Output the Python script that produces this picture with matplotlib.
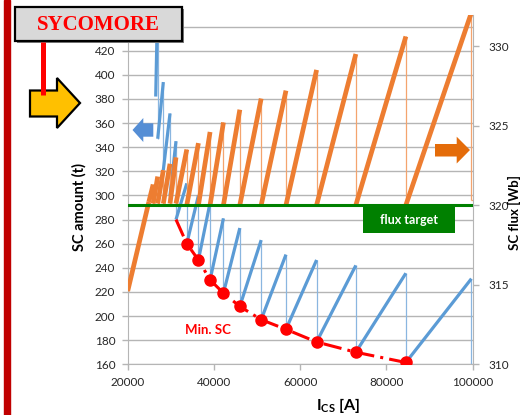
import matplotlib
matplotlib.use("Agg")
import matplotlib.pyplot as plt
import numpy as np
from matplotlib.collections import LineCollection
from matplotlib.patches import Polygon, Rectangle

plt.rcParams['font.family'] = ['Lato', 'DejaVu Sans']
plt.rcParams['mathtext.fontset'] = 'custom'
plt.rcParams['mathtext.rm'] = 'Lato'
plt.rcParams['mathtext.bf'] = 'Lato:bold'

# ---- data ----
# cycle boundaries of the CS current [A], the SC amount sawtooth resets here
cycle_ics = [26960, 28260, 29810, 31200, 33700, 36400, 39100, 42200, 46000,
             50950, 56700, 63800, 72900, 84500, 99700]
sc_first_ics = 26500
# SC amount (t): value at start of each tooth and value just before the reset
sc_low = [382, 347, 321, 300, 280, 260, 246.5, 230, 219, 208, 197, 189, 178.5, 170, 161.5]
sc_high = [465, 394, 368, 345, 310, 300, 294, 281, 273, 263, 251, 246.5, 242, 235.5, 231]
sc_end = 160

# SC flux [Wb] sawtooth (secondary axis)
flux_ics = [20000, 24900, 25900, 26960, 28260, 29810, 31200, 33700, 36400, 39100,
            42200, 46000, 50950, 56700, 63800, 72900, 84500, 99700]
flux_low = [314.6, 320.2, 320.1, 320.1, 320.1, 320.1, 320.1, 320.0, 320.0, 320.0,
            320.0, 320.0, 320.0, 320.0, 320.0, 320.0, 320.0]
flux_high = [320.2, 321.3, 321.8, 322.2, 322.6, 323.0, 323.5, 323.9, 324.6, 325.2,
             326.0, 326.7, 327.2, 328.5, 329.5, 330.6, 332.1]
flux_tail_ics = 100000
flux_tail = 320.3
flux_target = 320

# minimum SC amount per cycle
min_ics = [31200, 33700, 36400, 39100, 42200, 46000, 50950, 56700, 63800, 72900, 84500]
min_sc = [280, 260, 246.5, 230, 219, 208, 197, 189, 178.5, 170, 161.5]

W, H = 521, 415
fig = plt.figure(figsize=(W / 100, H / 100), dpi=100)
ax = fig.add_axes([127.7 / W, (H - 364.3) / H, 345 / W, 349.3 / H])
ax2 = ax.twinx()

grid_c = '#B5B5B5'
txt_c = '#262626'
blue = '#5B9BD5'
orange = '#ED7D31'

# ---- SC amount sawtooth ----
starts = [sc_first_ics] + cycle_ics[:-1]
rise = [[(x0, lo), (x1, hi)] for x0, x1, lo, hi in zip(starts, cycle_ics, sc_low, sc_high)]
drop_to = sc_low[1:] + [sc_end]
drops = [[(x1, hi), (x1, lo)] for x1, hi, lo in zip(cycle_ics, sc_high, drop_to)]
ax.add_collection(LineCollection(drops, colors='#8AB6E0', linewidths=0.9, zorder=3))
ax.add_collection(LineCollection(rise, colors=blue, linewidths=2.3, zorder=4, capstyle='butt'))

# ---- minimum SC ----
ax.plot(min_ics, min_sc, color='#FF0000', lw=2.2, dashes=(6, 2, 1, 2), zorder=5)
ax.plot(min_ics[1:], min_sc[1:], 'o', color='#FF0000', ms=8, zorder=6)

ax.set_xlim(20000, 100000)
ax.set_ylim(160, 449.6)
ax.set_xticks(np.arange(20000, 100001, 20000))
yt = np.arange(160, 441, 20)
ax.set_yticks(yt)
# the top label sits behind the SYCOMORE box in the original
ax.set_yticklabels([str(v) if v < 440 else '' for v in yt])
ax.grid(axis='y', color=grid_c, lw=1.0)
ax.set_axisbelow(True)
ax.tick_params(axis='both', colors=grid_c, labelcolor=txt_c, labelsize=8.5, length=4, width=1)
ax.tick_params(axis='y', pad=5)
ax.tick_params(axis='x', pad=5)
for s in ['left', 'bottom']:
    ax.spines[s].set_color(grid_c)
for s in ['top', 'right']:
    ax.spines[s].set_visible(False)

# ---- SC flux sawtooth ----
frise = [[(x0, lo), (x1, hi)] for x0, x1, lo, hi in
         zip(flux_ics[:-1], flux_ics[1:], flux_low, flux_high)]
fdrop_to = flux_low[1:] + [flux_tail]
fdrops = [[(x1, hi), (x1, lo)] for x1, hi, lo in zip(flux_ics[1:], flux_high, fdrop_to)]
fdrops.append([(flux_ics[-1], flux_tail), (flux_tail_ics, flux_tail)])
ax2.add_collection(LineCollection(fdrops, colors='#F4A46E', linewidths=0.9, zorder=3))
ax2.add_collection(LineCollection(frise, colors=orange, linewidths=3.4, zorder=4, capstyle='butt'))
ax2.axhline(flux_target, color='#008000', lw=2.2, zorder=5)

ax2.set_ylim(310, 331.95)
ax2.set_yticks([310, 315, 320, 325, 330])
ax2.tick_params(axis='y', colors=grid_c, labelcolor=txt_c, labelsize=8.5, length=4, width=1, pad=7)
for s in ['left', 'bottom', 'top']:
    ax2.spines[s].set_visible(False)
ax2.spines['right'].set_color(grid_c)

# ---- axis titles ----
fig.text(79 / W, 1 - 207 / H, 'SC amount (t)', rotation=90, ha='center', va='center',
         fontsize=10.5, fontweight='bold', color='black')
fig.text(338 / W, 1 - 405 / H, r'I$_{\mathbf{CS}}$ [A]', ha='center', va='center',
         fontsize=11.5, fontweight='bold', color='black')
fig.text(514.5 / W, 1 - 212 / H, 'SC flux [Wb]', rotation=90, ha='center', va='center',
         fontsize=9.5, fontweight='bold', color='black')

# ---- annotations drawn in pixel coordinates ----
deco = fig.add_axes([0, 0, 1, 1], zorder=10)
deco.set_xlim(0, W)
deco.set_ylim(H, 0)
deco.axis('off')

deco.add_patch(Rectangle((3.5, 0), 6, H, color='#C00000'))
deco.add_patch(Rectangle((17, 9), 167, 34, fc='#7F7F7F', ec='none'))
deco.add_patch(Rectangle((15, 7), 167, 34, fc='#D9D9D9', ec='black', lw=1.6))
deco.text(98.5, 25, 'SYCOMORE', family='Liberation Serif', fontsize=15, fontweight='bold',
          color='#FF0000', ha='center', va='center')
deco.plot([43, 43], [42, 95], color='#FF0000', lw=3.6, solid_capstyle='butt')
deco.add_patch(Polygon([(30, 90.5), (57, 90.5), (57, 78), (80, 103), (57, 128), (57, 116.5), (30, 116.5)],
                       closed=True, fc='#FFC000', ec='black', lw=1.6))
deco.add_patch(Polygon([(132.5, 130), (143.3, 118), (143.3, 123.3), (153.3, 123.3), (153.3, 136.7),
                        (143.3, 136.7), (143.3, 142)], closed=True, fc='#558ED5', ec='none'))
deco.add_patch(Polygon([(435, 144), (456.7, 144), (456.7, 136.7), (470, 150), (456.7, 163.5),
                        (456.7, 156.5), (435, 156.5)], closed=True, fc='#E46C0A', ec='none'))
deco.add_patch(Rectangle((363, 206.5), 92, 26.5, fc='#008000', ec='none'))
deco.text(409, 220, 'flux target', color='white', fontsize=9, fontweight='bold', ha='center', va='center')
deco.text(208, 330, 'Min. SC', color='#FF0000', fontsize=9.5, fontweight='bold', ha='center', va='center')

fig.savefig('out.png', dpi=100)
